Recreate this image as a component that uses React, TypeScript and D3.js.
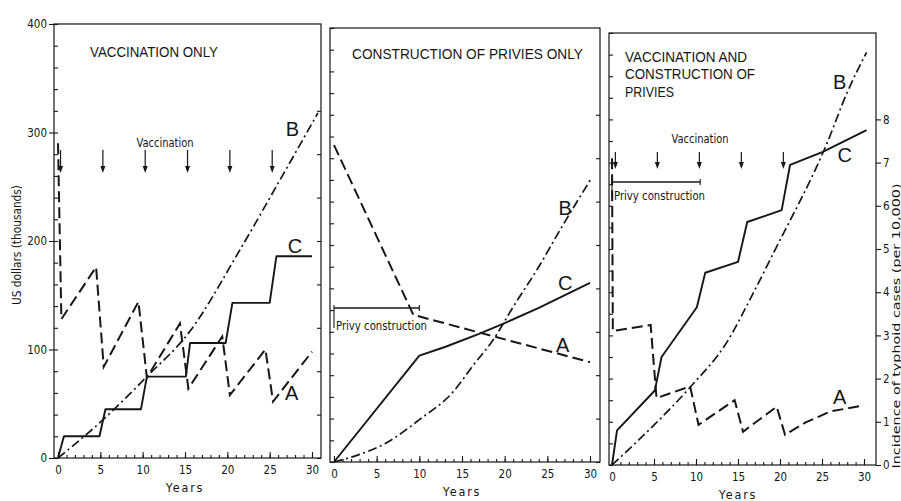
import * as d3 from "d3";
import { useEffect, useRef } from "react";

const W = 901;
const H = 501;
const ink = "#161616";
const narrow = "'DejaVu Sans Condensed', 'Liberation Sans Narrow', 'Liberation Sans', sans-serif";
const plain = "'Liberation Sans', Arial, sans-serif";

// axis ticks
const yearTicks = [0, 5, 10, 15, 20, 25, 30];
const dollarTicks = [0, 100, 200, 300, 400];
const incidenceTicks = [0, 1, 2, 3, 4, 5, 6, 7, 8];

// [year, value]. A = typhoid incidence (per 10,000), B and C = US dollars (thousands)

// vaccination only
const vacA = [[0, 7.25], [0.4, 3.2], [4.5, 4.4], [5.4, 2.1], [9.5, 3.6], [10.5, 1.85], [14.4, 3.1], [15.4, 1.6], [19.4, 2.8], [20.3, 1.45], [24.5, 2.5], [25.4, 1.3], [30, 2.45]];
const vacB = [[0, 0], [5, 33], [10.5, 75], [15.5, 116], [21.5, 192], [26.2, 256], [30.7, 318]];
const vacC = [[0, 0], [0.7, 20], [4.9, 20], [5.6, 45], [9.8, 45], [10.5, 75], [15.1, 75], [15.6, 106], [19.8, 106], [20.6, 143], [25, 143], [25.8, 186], [30, 186]];
const vacShots = [0.3, 5.3, 10.3, 15.3, 20.3, 25.3];

// construction of privies only
const privA = [[0, 7.3], [9.3, 3.39], [30, 2.3]];
const privB = [[0, 0], [3, 7], [6, 17], [10, 39], [14, 65], [16.3, 89], [18.6, 112], [21, 143], [24, 180], [26.5, 214], [30.2, 262]];
const privC = [[0, 0], [10, 98], [13, 106], [17, 118], [20, 128], [24, 142], [30, 165]];
const privYears = [0, 10];

// vaccination and construction of privies
const bothA = [[0, 7.1], [0.1, 3.1], [4.6, 3.24], [5.3, 1.55], [9.3, 1.82], [10.3, 0.93], [14.6, 1.5], [15.6, 0.77], [19.6, 1.35], [20.6, 0.7], [23, 0.98], [26, 1.24], [30, 1.38]];
const bothB = [[0, 0], [5, 37], [9.3, 72], [13.7, 114], [16.8, 159], [19.4, 199], [25.6, 298], [28, 345], [30.3, 382]];
const bothC = [[0, 0], [0.6, 32], [5.1, 69], [5.9, 100], [10.1, 146], [11.1, 178], [15, 188], [16.1, 225], [20.2, 236], [21.2, 278], [25.1, 290], [30.3, 310]];
const bothShots = [0.4, 5.4, 10.4, 15.4, 20.4];
const bothPrivYears = [0, 10.5];

// layout of the three panels (pixels), curve tags in data units
const panels = [
  {
    title: ["VACCINATION ONLY"], titleX: 90, titleY: [57], titleLen: [128],
    box: { left: 54, right: 321, top: 24, bottom: 458 }, x0: 58, x30: 312,
    A: vacA, B: vacB, C: vacC,
    shots: vacShots, shotTop: 150, shotTip: 173, shotLabel: [165, 147],
    privy: null,
    tags: { B: [27.7, 303], C: [28, 196], A: [27.6, 60] },
    dollarLabels: true, incidenceLabels: false,
  },
  {
    title: ["CONSTRUCTION OF PRIVIES ONLY"], titleX: 352, titleY: [59], titleLen: [231],
    box: { left: 330, right: 600, top: 28, bottom: 462 }, x0: 334, x30: 590,
    A: privA, B: privB, C: privC,
    shots: null,
    privy: { years: privYears, y: 308, labelY: 330 },
    tags: { B: [27.1, 234], C: [27.1, 165], A: [26.8, 108] },
    dollarLabels: false, incidenceLabels: false,
  },
  {
    title: ["VACCINATION AND", "CONSTRUCTION OF", "PRIVIES"], titleX: 625, titleY: [62, 79, 97], titleLen: [122, 130, 49],
    box: { left: 609, right: 876, top: 33, bottom: 465 }, x0: 612, x30: 864,
    A: bothA, B: bothB, C: bothC,
    shots: bothShots, shotTop: 152, shotTip: 169, shotLabel: [700, 143],
    privy: { years: bothPrivYears, y: 182, labelY: 200 },
    tags: { B: [27.1, 355], C: [27.7, 287], A: [27.1, 63] },
    dollarLabels: false, incidenceLabels: true,
  },
];

export default function App() {
  const ref = useRef<SVGSVGElement>(null);

  useEffect(() => {
    const svg = d3.select(ref.current);
    svg.selectAll("*").remove();
    svg.append("rect").attr("width", W).attr("height", H).attr("fill", "#fff");

    const axisStyle = (a: any) => {
      a.select(".domain").remove();
      a.attr("color", ink).attr("font-family", narrow).attr("font-size", 11.5);
      a.selectAll("line").attr("stroke-width", 1.1);
    };

    panels.forEach((p: any) => {
      const { left, right, top, bottom } = p.box;
      const x = d3.scaleLinear().domain([0, 30]).range([p.x0, p.x30]);
      const y = d3.scaleLinear().domain([0, 400]).range([bottom, top]);
      const yInc = d3.scaleLinear().domain([0, 10]).range([bottom, top]);
      const g = svg.append("g");

      // frame
      g.append("rect")
        .attr("x", left).attr("y", top)
        .attr("width", right - left).attr("height", bottom - top)
        .attr("fill", "none").attr("stroke", ink).attr("stroke-width", 1.2);

      // x axis: yearly minor ticks, labelled every 5
      g.append("g").attr("transform", `translate(0,${bottom})`)
        .call(d3.axisBottom(x).tickValues(d3.range(0, 31)).tickSize(-3).tickFormat(() => ""))
        .call(axisStyle);
      g.append("g").attr("transform", `translate(0,${bottom})`)
        .call(d3.axisBottom(x).tickValues(yearTicks).tickSize(-6).tickPadding(8).tickFormat(d3.format("d")))
        .call(axisStyle);

      g.append("text")
        .attr("x", x(15)).attr("y", bottom + 34)
        .attr("text-anchor", "middle")
        .attr("font-family", narrow).attr("font-size", 12.5)
        .attr("letter-spacing", 1.8).attr("fill", ink)
        .text("Years");

      // left: dollars, minor ticks every 20 inside
      g.append("g").attr("transform", `translate(${left},0)`)
        .call(d3.axisLeft(y).tickValues(d3.range(0, 401, 20)).tickSize(-4).tickFormat(() => ""))
        .call(axisStyle);
      if (p.dollarLabels) {
        g.append("g").attr("transform", `translate(${left},0)`)
          .call(d3.axisLeft(y).tickValues(dollarTicks).tickSize(5).tickPadding(2))
          .call(axisStyle);
      }

      // right: incidence
      g.append("g").attr("transform", `translate(${right},0)`)
        .call(
          p.incidenceLabels
            ? d3.axisRight(yInc).tickValues(incidenceTicks).tickSize(5).tickPadding(2)
            : d3.axisRight(yInc).tickValues(incidenceTicks).tickSize(-4).tickFormat(() => "")
        )
        .call(axisStyle);

      // title
      p.title.forEach((t: string, i: number) => {
        g.append("text")
          .attr("x", p.titleX).attr("y", p.titleY[i])
          .attr("font-family", plain).attr("font-size", 15.5)
          .attr("textLength", p.titleLen[i]).attr("lengthAdjust", "spacingAndGlyphs")
          .attr("fill", ink)
          .text(t);
      });

      // curves
      const lineD = d3.line<number[]>().x((d) => x(d[0])).y((d) => y(d[1]));
      const lineInc = d3.line<number[]>().x((d) => x(d[0])).y((d) => yInc(d[1]));

      g.append("path").datum(p.A)
        .attr("d", lineInc)
        .attr("fill", "none").attr("stroke", ink).attr("stroke-width", 2)
        .attr("stroke-dasharray", "11,5");
      g.append("path").datum(p.B)
        .attr("d", lineD.curve(d3.curveMonotoneX))
        .attr("fill", "none").attr("stroke", ink).attr("stroke-width", 1.7)
        .attr("stroke-dasharray", "9,3.5,2,3.5");
      g.append("path").datum(p.C)
        .attr("d", lineD.curve(d3.curveLinear))
        .attr("fill", "none").attr("stroke", ink).attr("stroke-width", 1.9)
        .attr("stroke-linejoin", "round");

      // curve tags
      Object.entries(p.tags).forEach(([k, v]: [string, any]) => {
        g.append("text")
          .attr("x", x(v[0])).attr("y", y(v[1]))
          .attr("dy", "0.36em").attr("text-anchor", "middle")
          .attr("font-family", plain).attr("font-size", 20)
          .attr("fill", ink)
          .text(k);
      });

      // vaccination arrows
      if (p.shots) {
        p.shots.forEach((s: number) => {
          const sx = x(s);
          g.append("line")
            .attr("x1", sx).attr("x2", sx)
            .attr("y1", p.shotTop).attr("y2", p.shotTip - 5)
            .attr("stroke", ink).attr("stroke-width", 1.2);
          g.append("path")
            .attr("d", `M${sx - 2.5},${p.shotTip - 7}L${sx + 2.5},${p.shotTip - 7}L${sx},${p.shotTip}Z`)
            .attr("fill", ink);
        });
        g.append("text")
          .attr("x", p.shotLabel[0]).attr("y", p.shotLabel[1])
          .attr("text-anchor", "middle")
          .attr("font-family", narrow).attr("font-size", 12)
          .attr("textLength", 57).attr("lengthAdjust", "spacingAndGlyphs")
          .attr("fill", ink)
          .text("Vaccination");
      }

      // privy construction period
      if (p.privy) {
        const [a, b] = p.privy.years.map(x);
        const py = p.privy.y;
        g.append("line").attr("x1", a).attr("x2", b).attr("y1", py).attr("y2", py)
          .attr("stroke", ink).attr("stroke-width", 1.3);
        g.append("line").attr("x1", a).attr("x2", a).attr("y1", py - 3).attr("y2", p.privy.labelY - 2)
          .attr("stroke", ink).attr("stroke-width", 1.1);
        g.append("line").attr("x1", b).attr("x2", b).attr("y1", py - 3).attr("y2", py + 3)
          .attr("stroke", ink).attr("stroke-width", 1.1);
        g.append("text")
          .attr("x", a + 2).attr("y", p.privy.labelY)
          .attr("font-family", narrow).attr("font-size", 12)
          .attr("textLength", 91).attr("lengthAdjust", "spacingAndGlyphs")
          .attr("fill", ink)
          .text("Privy construction");
      }
    });

    // axis titles
    svg.append("text")
      .attr("transform", "translate(17,245) rotate(-90)")
      .attr("dy", "0.35em").attr("text-anchor", "middle")
      .attr("font-family", narrow).attr("font-size", 11.5)
      .attr("textLength", 120).attr("lengthAdjust", "spacingAndGlyphs")
      .attr("fill", ink)
      .text("US dollars (thousands)");
    svg.append("text")
      .attr("transform", "translate(896,326) rotate(-90)")
      .attr("dy", "0.35em").attr("text-anchor", "middle")
      .attr("font-family", narrow).attr("font-size", 10.5)
      .attr("textLength", 285).attr("lengthAdjust", "spacingAndGlyphs")
      .attr("fill", ink)
      .text("Incidence of typhoid cases (per 10,000)");
  }, []);

  return (
    <svg ref={ref} width={W} height={H} style={{ position: "absolute", left: 0, top: 0 }} />
  );
}
